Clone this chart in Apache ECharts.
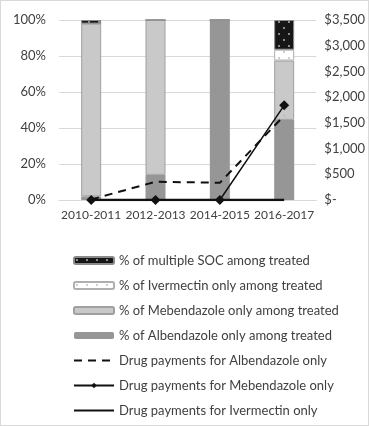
<!DOCTYPE html>
<html>
<head>
<meta charset="utf-8">
<script src="https://cdn.jsdelivr.net/npm/echarts@6/dist/echarts.min.js"></script>
<style>
  html, body { margin: 0; padding: 0; background: #fff; }
  #chart { width: 367px; height: 424px; border: 1px solid #d9d9d9; }
</style>
</head>
<body>
<div id="chart"></div>
<script>
// categories
const years = ['2010-2011', '2012-2013', '2014-2015', '2016-2017'];

// % of treated (stacked to 100)
const albOnlyPct = [2, 14, 100, 44.5];
const mebOnlyPct = [96, 86, 0, 33];
const ivmOnlyPct = [0, 0, 0, 6];
const multiSocPct = [2, 0, 0, 16.5];

// drug payments ($)
const albPay = [10, 355, 335, 1640];
const mebPay = [0, 0, 0, 1840];
const ivmPay = [0, 0, 0, 0];

// dotted fill for the pattern bars
function dots(bg, dot) {
  const c = document.createElement('canvas');
  c.width = 10; c.height = 12;
  const ctx = c.getContext('2d');
  ctx.fillStyle = bg;
  ctx.fillRect(0, 0, 10, 12);
  ctx.fillStyle = dot;
  ctx.fillRect(2, 2, 2, 2);
  ctx.fillRect(7, 8, 2, 2);
  return { image: c, repeat: 'repeat' };
}

const chart = echarts.init(document.getElementById('chart'));
const font = 'Lato';
const txt = '#404040';
const legText = { fontSize: 13, color: txt, fontFamily: font, fontWeight: 'normal' };

const option = {
  animation: false,
  textStyle: { fontFamily: font },
  grid: { left: 58, right: 50, top: 19, bottom: 225 },
  legend: {
    orient: 'vertical',
    left: 67,
    top: 248,
    itemWidth: 40,
    itemHeight: 7,
    itemGap: 12,
    textStyle: legText,
    data: [
      { name: '% of multiple SOC among treated', textStyle: legText },
      { name: '% of Ivermectin only among treated', textStyle: legText },
      { name: '% of Mebendazole only among treated', textStyle: legText },
      { name: '% of Albendazole only among treated', textStyle: legText },
      { name: 'Drug payments for Albendazole only', itemStyle: { opacity: 0 }, textStyle: legText },
      { name: 'Drug payments for Mebendazole only', textStyle: legText },
      { name: 'Drug payments for Ivermectin only', itemStyle: { opacity: 0 }, textStyle: legText }
    ]
  },
  xAxis: {
    type: 'category',
    data: years,
    axisLine: { lineStyle: { color: '#d9d9d9', width: 1 } },
    axisTick: { show: false },
    axisLabel: { fontSize: 12, color: txt, margin: 9, interval: 0, hideOverlap: false }
  },
  yAxis: [{
    type: 'value',
    min: 0, max: 100, interval: 20,
    axisLabel: { formatter: '{value}%', fontSize: 13, color: txt, margin: 13 },
    splitLine: { lineStyle: { color: '#d9d9d9' } },
    axisLine: { show: false }, axisTick: { show: false }
  }, {
    type: 'value',
    min: 0, max: 3500, interval: 500,
    position: 'right',
    axisLabel: {
      fontSize: 13, color: txt, margin: 8,
      formatter: v => v === 0 ? '$-' : '$' + v.toLocaleString('en-US')
    },
    splitLine: { show: false },
    axisLine: { show: false }, axisTick: { show: false }
  }],
  series: [{
    name: '% of Albendazole only among treated',
    type: 'bar', stack: 'pct', barWidth: 20,
    itemStyle: { color: '#969696' },
    data: albOnlyPct
  }, {
    name: '% of Mebendazole only among treated',
    type: 'bar', stack: 'pct', barWidth: 20,
    itemStyle: { color: '#c9c9c9', borderColor: '#a0a0a0', borderWidth: 1 },
    data: mebOnlyPct
  }, {
    name: '% of Ivermectin only among treated',
    type: 'bar', stack: 'pct', barWidth: 20,
    itemStyle: { color: dots('#ffffff', '#d0d0d0'), borderColor: '#b0b0b0', borderWidth: 1 },
    data: ivmOnlyPct
  }, {
    name: '% of multiple SOC among treated',
    type: 'bar', stack: 'pct', barWidth: 20,
    itemStyle: { color: dots('#161616', '#8a8a8a'), borderColor: '#8a8a8a', borderWidth: 1 },
    data: multiSocPct
  }, {
    name: 'Drug payments for Ivermectin only',
    type: 'line', yAxisIndex: 1, symbol: 'none',
    lineStyle: { color: '#111', width: 2.5 },
    itemStyle: { color: '#111' },
    data: ivmPay
  }, {
    name: 'Drug payments for Albendazole only',
    type: 'line', yAxisIndex: 1, symbol: 'none',
    lineStyle: { color: '#111', width: 2, type: [8, 6] },
    itemStyle: { color: '#111' },
    data: albPay
  }, {
    name: 'Drug payments for Mebendazole only',
    type: 'line', yAxisIndex: 1, symbol: 'diamond', symbolSize: 10,
    lineStyle: { color: '#111', width: 1.5 },
    itemStyle: { color: '#111' },
    data: mebPay
  }]
};

chart.setOption(option);
</script>
</body>
</html>
